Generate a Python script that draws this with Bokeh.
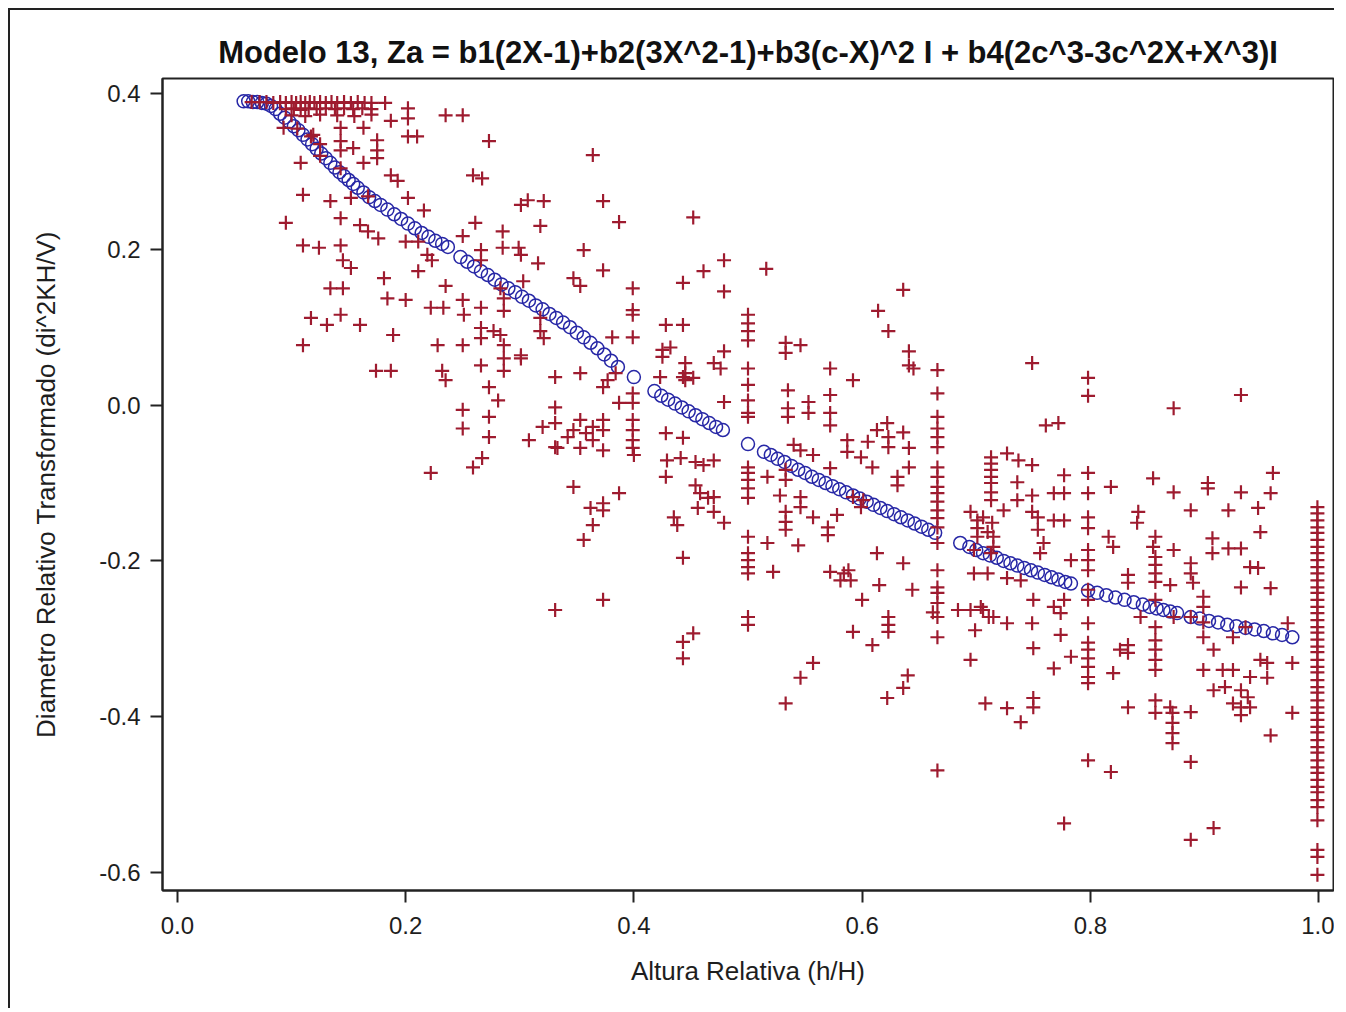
from bokeh.plotting import figure
from bokeh.models import Range1d, FixedTicker, NumeralTickFormatter
from bokeh.embed import file_html
from bokeh.resources import INLINE

title_text = "Modelo 13, Za = b1(2X-1)+b2(3X^2-1)+b3(c-X)^2 I + b4(2c^3-3c^2X+X^3)I"
x_label = "Altura Relativa (h/H)"
y_label = "Diametro Relativo Transformado (di^2KH/V)"
x_ticks = [0.0, 0.2, 0.4, 0.6, 0.8, 1.0]
y_ticks = [-0.6, -0.4, -0.2, 0.0, 0.2, 0.4]

# fitted values (blue circles)
fit_x = [0.058, 0.062, 0.066, 0.070, 0.074, 0.078, 0.082, 0.086,
         0.090, 0.094, 0.098, 0.102, 0.106, 0.110, 0.114, 0.118, 0.122, 0.126, 0.130, 0.134,
         0.138, 0.142, 0.146, 0.150, 0.154, 0.158, 0.163, 0.168, 0.173, 0.178, 0.184, 0.190,
         0.196, 0.202, 0.208, 0.214, 0.220, 0.226, 0.232, 0.237,
         0.248, 0.254, 0.260, 0.266, 0.272, 0.278, 0.284, 0.290, 0.296, 0.302, 0.308, 0.314,
         0.320, 0.326, 0.332, 0.338, 0.344, 0.350, 0.356, 0.362, 0.368, 0.374, 0.380, 0.386,
         0.400,
         0.418, 0.424, 0.430, 0.436, 0.442, 0.448, 0.454, 0.460, 0.466, 0.472, 0.478,
         0.500,
         0.514, 0.520, 0.526, 0.532, 0.538, 0.544, 0.550, 0.556, 0.562, 0.568, 0.574, 0.580,
         0.586, 0.592, 0.598, 0.604, 0.610, 0.616, 0.622, 0.628, 0.634, 0.640, 0.646, 0.652,
         0.658, 0.664,
         0.686, 0.694, 0.700, 0.706, 0.712, 0.718, 0.724, 0.730, 0.736, 0.742, 0.748, 0.754,
         0.760, 0.766, 0.772, 0.778, 0.783,
         0.798, 0.806, 0.814, 0.822, 0.830, 0.838, 0.846, 0.852, 0.858, 0.864, 0.870, 0.876,
         0.888, 0.896, 0.904, 0.912, 0.920, 0.928, 0.936, 0.944, 0.952, 0.960, 0.968, 0.977]
fit_y = [0.390, 0.390, 0.389, 0.389, 0.388, 0.387, 0.384, 0.380,
         0.374, 0.369, 0.364, 0.358, 0.353, 0.347, 0.341, 0.335, 0.329, 0.323, 0.317, 0.311,
         0.305, 0.299, 0.294, 0.289, 0.284, 0.279, 0.273, 0.267, 0.262, 0.257, 0.251, 0.245,
         0.239, 0.233, 0.227, 0.221, 0.216, 0.211, 0.207, 0.203,
         0.190, 0.184, 0.178, 0.172, 0.167, 0.161, 0.155, 0.150, 0.145, 0.139, 0.134, 0.128,
         0.123, 0.117, 0.112, 0.106, 0.100, 0.093, 0.087, 0.080, 0.073, 0.065, 0.057, 0.049,
         0.036,
         0.018, 0.012, 0.007, 0.002, -0.003, -0.008, -0.013, -0.018, -0.023, -0.028, -0.032,
         -0.050,
         -0.060, -0.064, -0.069, -0.073, -0.078, -0.083, -0.087, -0.092, -0.096, -0.100, -0.104, -0.108,
         -0.112, -0.116, -0.120, -0.124, -0.128, -0.132, -0.136, -0.140, -0.144, -0.148, -0.152, -0.156,
         -0.160, -0.164,
         -0.177, -0.182, -0.186, -0.190, -0.193, -0.196, -0.200, -0.203, -0.206, -0.209, -0.212, -0.215,
         -0.218, -0.221, -0.224, -0.227, -0.229,
         -0.238, -0.241, -0.244, -0.247, -0.250, -0.253, -0.256, -0.259, -0.261, -0.263, -0.265, -0.267,
         -0.272, -0.274, -0.277, -0.279, -0.282, -0.284, -0.286, -0.288, -0.290, -0.293, -0.295, -0.298]

# observed values (red crosses), upper-left group
obs_a = [(0.065, .389), (0.072, .389), (0.078, .389), (0.084, .388), (0.090, .389), (0.095, .388),
         (0.100, .389), (0.104, .388), (0.108, .389), (0.112, .388), (0.116, .389), (0.120, .388),
         (0.125, .389), (0.130, .388), (0.135, .389), (0.140, .388), (0.146, .389), (0.152, .388),
         (0.158, .389), (0.164, .388), (0.170, .388),
         (0.095, .380), (0.102, .381), (0.108, .379), (0.115, .381), (0.122, .380), (0.130, .381),
         (0.138, .380), (0.146, .381), (0.154, .380), (0.162, .381), (0.170, .380),
         (0.100, .372), (0.112, .371), (0.125, .373), (0.140, .372), (0.155, .371), (0.170, .373),
         (0.105, .355), (0.117, .345), (0.125, .335), (0.143, .327),
         (.182, .388), (.202, .381), (.202, .368), (.235, .372), (.250, .372), (.187, .365), (.163, .356),
         (.143, .356), (.093, .356), (.202, .345), (.210, .345), (.273, .339), (.175, .340), (.175, .327),
         (.175, .317), (.143, .339), (.154, .330), (.119, .347), (.108, .311), (.125, .320), (.143, .304),
         (.163, .311), (.187, .295), (.193, .288), (.259, .295), (.267, .291), (.110, .270), (.134, .262),
         (.152, .266), (.167, .268), (.095, .234), (.143, .240), (.160, .231), (.167, .223), (.176, .214),
         (.202, .266), (.216, .250), (.110, .205), (.124, .202), (.143, .205), (.145, .186), (.152, .176),
         (.200, .210), (.211, .210), (.219, .193), (.223, .186), (.250, .217), (.261, .234), (.301, .257),
         (.307, .263), (.321, .262), (.318, .230), (.285, .223), (.285, .202), (.299, .202), (.301, .193),
         (.266, .199), (.266, .186), (.211, .172), (.181, .163), (.134, .150), (.145, .150), (.184, .137),
         (.200, .135), (.235, .153), (.250, .135), (.251, .116), (.266, .125), (.283, .150), (.286, .137),
         (.286, .121), (.303, .159), (.316, .182), (.222, .125), (.233, .125), (.117, .112), (.131, .103),
         (.143, .116), (.160, .103), (.189, .090), (.110, .077), (.228, .077), (.250, .077), (.266, .099),
         (.266, .086), (.277, .095), (.283, .090), (.286, .077), (.286, .060), (.301, .060), (.318, .112),
         (.318, .095), (.321, .086), (.174, .044), (.187, .044), (.232, .044), (.266, .051), (.286, .044),
         (.301, .064),
         (.235, .032), (.273, .023), (.281, .006), (.250, -.006), (.250, -.030), (.273, -.015),
         (.273, -.041), (.267, -.068), (.259, -.080), (.222, -.087), (.308, -.045), (.320, -.028),
         (.331, .036), (.331, -.003), (.331, -.023), (.331, -.054), (.331, -.263)]

# observed values, middle group
obs_b = [(.356, .199), (.373, .173), (.387, .235), (.452, .241), (.443, .157), (.399, .150), (.399, .122),
         (.399, .116), (.399, .087), (.381, .087), (.428, .103), (.443, .103), (.425, .071), (.432, .074),
         (.425, .062), (.445, .054), (.445, .041), (.445, .032), (.399, .015), (.399, .003),
         (.387, .003), (.399, -.019), (.399, -.032), (.399, -.045), (.399, -.055), (.373, -.019),
         (.373, -.032), (.364, -.028), (.358, -.036), (.353, -.055), (.333, -.055), (.428, -.036),
         (.443, -.042), (.429, -.071), (.441, -.068), (.428, -.092), (.347, -.105), (.387, -.113),
         (.423, .036),
         (.364, .321), (.373, .262), (.347, .163), (.353, .153), (.479, .186), (.479, .146), (.461, .172),
         (.516, .175), (.500, .116), (.500, .105), (.500, .095), (.500, .083), (.479, .069), (.470, .054),
         (.476, .047), (.500, .047), (.533, .080), (.533, .067), (.546, .077), (.572, .047), (.636, .148),
         (.614, .121), (.623, .095), (.641, .069), (.641, .051), (.645, .047), (.666, .045),
         (.353, .041), (.377, .032), (.384, .041), (.373, .023),
         (.353, -.019), (.347, -.032), (.342, -.041), (.364, -.045), (.373, -.058), (.400, -.064),
         (.443, .036), (.452, .035), (.479, .004), (.500, .026), (.500, .006), (.500, -.010), (.500, -.015),
         (.454, -.073), (.461, -.077), (.470, -.071),
         (.373, -.126), (.362, -.132), (.373, -.135), (.364, -.154), (.356, -.173),
         (.454, -.103), (.458, -.113), (.465, -.119), (.470, -.118), (.470, -.137), (.456, -.132),
         (.435, -.144), (.438, -.154), (.479, -.151),
         (.500, -.080), (.500, -.087), (.500, -.096), (.500, -.107), (.500, -.119),
         (.500, -.169), (.500, -.190), (.500, -.199), (.500, -.208), (.500, -.216),
         (.517, -.092), (.528, -.116), (.533, -.083), (.533, -.096),
         (.533, -.137), (.533, -.150), (.533, -.160), (.546, -.118), (.546, -.131), (.557, -.144),
         (.517, -.177), (.522, -.214), (.544, -.180), (.443, -.196), (.373, -.250),
         (.500, -.272), (.500, -.282), (.443, -.304), (.452, -.293), (.443, -.325), (.557, -.331),
         (.535, .019), (.535, -.004), (.535, -.015), (.553, .004), (.553, -.010), (.557, -.064),
         (.572, -.081), (.540, -.051), (.546, -.058), (.572, .013), (.572, -.010), (.572, -.026),
         (.592, .032), (.587, -.045), (.587, -.060), (.605, -.047), (.599, -.067), (.609, -.080),
         (.613, -.032), (.622, -.023), (.623, -.041), (.623, -.054), (.636, -.035), (.641, -.055),
         (.641, -.080), (.631, -.092), (.631, -.103),
         (.666, .015), (.666, -.015), (.666, -.030), (.666, -.041), (.666, -.054), (.666, -.080),
         (.666, -.092), (.666, -.105), (.666, -.113), (.666, -.124), (.666, -.135), (.666, -.145),
         (.666, -.157), (.666, -.177), (.666, -.212), (.666, -.234), (.666, -.241), (.666, -.254),
         (.666, -.272), (.666, -.298),
         (.570, -.157), (.570, -.167), (.572, -.214), (.584, -.216), (.588, -.212), (.581, -.225),
         (.590, -.225), (.578, -.141), (.592, -.118), (.601, -.122), (.599, -.131),
         (.613, -.190), (.636, -.203), (.615, -.231), (.644, -.237), (.600, -.250),
         (.623, -.272), (.623, -.282), (.623, -.291), (.592, -.291), (.609, -.308),
         (.684, -.263), (.662, -.266),
         (.546, -.350), (.533, -.383), (.640, -.347), (.636, -.363), (.622, -.376), (.666, -.469)]

# observed values, right group
obs_c = [(.749, .054), (.798, .035), (.798, .012), (.873, -.004), (.932, .013), (.761, -.026), (.772, -.023),
         (.713, -.067), (.713, -.075), (.713, -.083), (.713, -.092), (.713, -.100), (.713, -.112),
         (.713, -.122), (.727, -.062), (.737, -.071), (.749, -.077),
         (.736, -.099), (.724, -.135), (.736, -.122), (.749, -.116), (.749, -.137),
         (.695, -.137), (.701, -.148), (.706, -.144), (.714, -.151), (.701, -.158),
         (.701, -.169), (.710, -.163), (.715, -.169), (.715, -.182),
         (.698, -.186), (.713, -.190), (.698, -.216), (.710, -.216),
         (.695, -.263), (.704, -.259), (.711, -.272), (.706, -.263), (.715, -.272),
         (.699, -.289), (.727, -.280), (.727, -.222), (.739, -.225), (.695, -.327),
         (.749, -.280), (.750, -.312), (.774, -.295), (.783, -.323), (.768, -.338),
         (.708, -.383), (.727, -.389), (.739, -.407), (.750, -.376), (.750, -.388), (.777, -.537),
         (.754, -.144), (.754, -.160), (.759, -.177), (.756, -.190),
         (.750, -.250), (.768, -.259), (.777, -.250), (.774, -.267), (.783, -.199),
         (.777, -.090), (.777, -.113), (.768, -.113), (.768, -.148), (.777, -.148),
         (.798, -.087), (.798, -.113), (.798, -.144), (.798, -.158), (.798, -.186), (.798, -.199),
         (.798, -.212), (.798, -.237), (.798, -.250), (.798, -.280), (.798, -.305), (.798, -.314),
         (.798, -.325), (.798, -.336), (.798, -.349), (.798, -.357), (.798, -.456), (.818, -.471),
         (.818, -.105), (.816, -.169), (.820, -.182), (.826, -.314), (.820, -.344),
         (.833, -.218), (.833, -.228), (.833, -.308), (.833, -.318), (.833, -.388),
         (.842, -.137), (.841, -.151), (.844, -.272), (.855, -.094), (.857, -.169), (.855, -.182),
         (.857, -.195), (.857, -.205), (.857, -.216), (.857, -.227), (.857, -.250), (.857, -.285),
         (.857, -.302), (.857, -.314), (.857, -.327), (.857, -.340),
         (.857, -.379), (.857, -.395), (.870, -.388),
         (.873, -.112), (.888, -.135), (.873, -.186), (.870, -.231), (.873, -.272),
         (.872, -.395), (.872, -.408), (.872, -.421), (.872, -.434), (.888, -.394), (.888, -.458),
         (.903, -.100), (.903, -.107), (.907, -.171), (.907, -.190), (.921, -.135), (.921, -.184),
         (.932, -.184), (.932, -.112),
         (.888, -.272), (.899, -.279), (.899, -.298), (.908, -.314),
         (.888, -.203), (.888, -.216), (.890, -.228), (.899, -.246), (.899, -.259),
         (.899, -.340), (.916, -.340), (.925, -.340), (.940, -.349), (.949, -.327),
         (.908, -.366), (.918, -.362), (.932, -.366), (.938, -.375), (.932, -.388), (.940, -.388),
         (.932, -.398), (.925, -.383), (.955, -.350), (.955, -.331),
         (.940, -.208), (.947, -.209), (.932, -.234), (.958, -.235), (.949, -.163), (.947, -.132),
         (.958, -.113), (.960, -.087),
         (.925, -.298), (.936, -.285), (.973, -.280), (.977, -.331), (.977, -.395), (.958, -.424),
         (.908, -.543), (.888, -.558)]

# observed values at h/H = 1.0
obs_top_y = [-.131, -.139, -.148, -.157, -.164, -.173, -.182, -.190, -.199, -.208, -.216, -.225,
             -.234, -.241, -.250, -.259, -.267, -.276, -.285, -.292, -.301, -.310, -.317, -.327,
             -.336, -.343, -.353, -.362, -.369, -.379, -.388, -.395, -.404, -.413, -.420, -.430,
             -.439, -.446, -.456, -.465, -.472, -.481, -.490, -.497, -.507, -.516, -.533,
             -.571, -.580, -.603]

obs_x = [a for a, b in obs_a + obs_b + obs_c] + [0.999] * len(obs_top_y)
obs_y = [b for a, b in obs_a + obs_b + obs_c] + obs_top_y

FONT = "Liberation Sans"
TXT = "#1e1e1e"

p = figure(width=1326, height=1000, output_backend="svg", toolbar_location=None,
           x_range=Range1d(-0.0131, 1.0131), y_range=Range1d(-0.6231, 0.4193),
           min_border_left=152, min_border_right=3, min_border_top=68, min_border_bottom=120)
p.styles = {"border-left": "2px solid #222", "border-top": "2px solid #222",
            "margin-left": "8px", "margin-top": "8px"}

p.title.text = title_text
p.title.align = "center"
p.title.text_font = FONT
p.title.text_font_size = "31px"
p.title.text_font_style = "bold"
p.title.text_color = "#111111"
p.title.standoff = 17

p.xgrid.grid_line_color = None
p.ygrid.grid_line_color = None
p.outline_line_color = "#222222"
p.outline_line_width = 2
p.outline_line_alpha = 1
p.background_fill_color = "white"
p.border_fill_color = "white"

for ax in (p.xaxis[0], p.yaxis[0]):
    ax.axis_line_width = 2
    ax.axis_line_color = "#222222"
    ax.major_tick_line_width = 2
    ax.major_tick_line_color = "#222222"
    ax.major_tick_out = 12
    ax.major_tick_in = 0
    ax.minor_tick_line_color = None
    ax.major_label_text_font = FONT
    ax.major_label_text_font_size = "24px"
    ax.major_label_text_color = TXT
    ax.axis_label_text_font = FONT
    ax.axis_label_text_font_size = "26px"
    ax.axis_label_text_font_style = "normal"
    ax.axis_label_text_color = TXT
    ax.formatter = NumeralTickFormatter(format="0.0")

p.xaxis[0].ticker = FixedTicker(ticks=x_ticks)
p.yaxis[0].ticker = FixedTicker(ticks=y_ticks)
p.xaxis[0].axis_label = x_label
p.yaxis[0].axis_label = y_label
p.xaxis[0].major_label_standoff = 14
p.yaxis[0].major_label_standoff = 10
p.xaxis[0].axis_label_standoff = 19
p.yaxis[0].axis_label_standoff = 35

p.scatter(fit_x, fit_y, marker="circle", size=13, fill_color=None,
          line_color="#2727a6", line_width=1.5)
p.scatter(obs_x, obs_y, marker="cross", size=14, line_color="#9e1b2f", line_width=2.2)

open("out.html", "w").write(file_html(p, INLINE))
